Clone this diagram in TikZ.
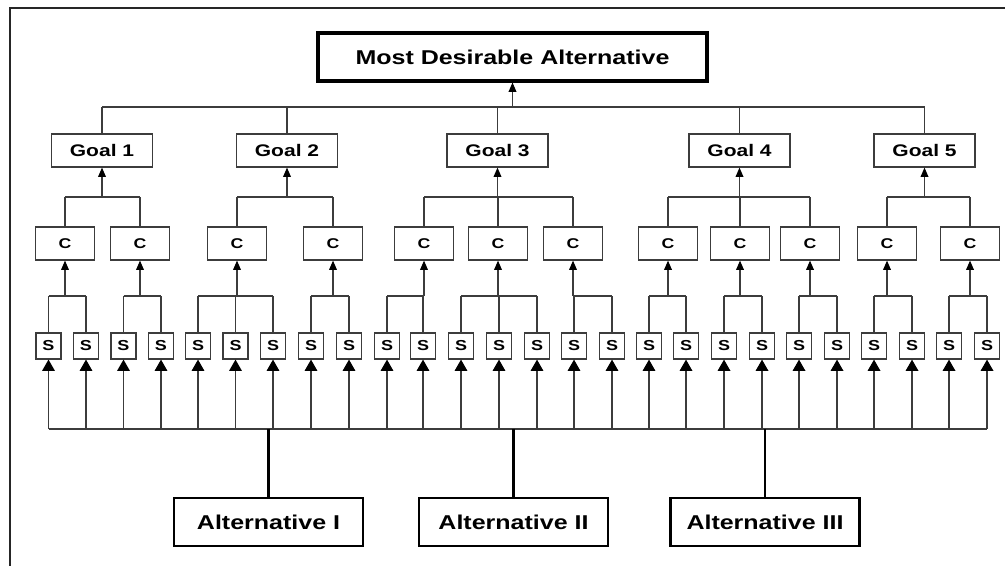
\documentclass[tikz,border=0pt]{standalone}
\usepackage{fontspec}
\usetikzlibrary{arrows.meta}
\newfontfamily\boxfont[FakeStretch=1.25]{Liberation Sans}
\definecolor{wirecol}{RGB}{60,60,60}
\begin{document}
\begin{tikzpicture}[x=0.75pt,y=-0.75pt,
  wire/.style={draw=wirecol,line width=0.9pt},
  thickwire/.style={draw=black,line width=1.6pt},
  smallarrow/.style={wire,-{Triangle[width=5.8pt,length=7pt,color=black]}},
  bigarrow/.style={wire,-{Triangle[width=9.5pt,length=8.5pt,color=black]}},
  basebox/.style={draw=wirecol,line width=0.9pt,inner sep=0pt,font=\boxfont\bfseries},
  topbox/.style={draw=black,line width=2.3pt,inner sep=0pt,minimum width=389*0.75pt,minimum height=48*0.75pt,font=\boxfont\bfseries\fontsize{15pt}{18pt}\selectfont},
  altbox/.style={draw=black,line width=1.9pt,inner sep=0pt,minimum width=189*0.75pt,minimum height=48*0.75pt,font=\boxfont\bfseries\fontsize{15pt}{18pt}\selectfont},
  goalbox/.style={basebox,minimum width=101*0.75pt,minimum height=33*0.75pt,font=\boxfont\bfseries\fontsize{12.6pt}{15pt}\selectfont},
  cbox/.style={basebox,minimum width=59*0.75pt,minimum height=33*0.75pt,font=\boxfont\bfseries\fontsize{10.6pt}{13pt}\selectfont},
  sbox/.style={basebox,minimum width=25*0.75pt,minimum height=26*0.75pt,font=\boxfont\bfseries\fontsize{10.8pt}{13pt}\selectfont}]
\useasboundingbox (0,0) rectangle (1005,566);

% outer frame (top and left edges)
\coordinate (frameTL) at (10,8);
\coordinate (frameTR) at (1005,8);
\coordinate (frameBL) at (10,566);
\draw[wire,draw=black!85] (frameTR) -- (frameTL) -- (frameBL);

% bus levels
\coordinate (busG) at (0,107);
\coordinate (busC) at (0,197);
\coordinate (busS) at (0,296);
\coordinate (busA) at (0,429);

% top node
\node[topbox] (mda) at (512.5,57) {Most Desirable Alternative};

% goals
\foreach \i/\x in {1/102,2/287,3/497.5,4/739.5,5/924.5}
  \node[goalbox] (g\i) at (\x,150.5) {Goal \i};

% criteria
\foreach \i/\x in {1/65,2/140,3/237,4/333,5/424,6/498,7/573,8/668,9/740,10/810,11/887,12/970}
  \node[cbox] (c\i) at (\x,243.5) {C};

% sub-criteria
\foreach \i/\x in {1/48.5,2/86,3/123.5,4/161,5/198,6/235.5,7/273,8/311,9/349,10/387,11/423,12/461,13/499,14/537,15/574,16/612,17/649,18/686,19/724,20/762,21/799,22/837,23/874,24/912,25/949,26/987}
  \node[sbox] (s\i) at (\x,346) {S};

% alternatives
\node[altbox] (a1) at (268.5,522) {Alternative I};
\node[altbox] (a2) at (513.5,522) {Alternative II};
\node[altbox] (a3) at (765,522) {Alternative III};

% goals -> top node
\draw[wire] (g1.north |- busG) -- (g5.north |- busG);
\foreach \i in {1,...,5}
  \draw[wire] (g\i.north) -- (g\i.north |- busG);
\draw[smallarrow] (mda.south |- busG) -- (mda.south);

% criteria -> goals
\foreach \g/\first/\last in {1/1/2,2/3/4,3/5/7,4/8/10,5/11/12}{
  \draw[wire] (c\first.north |- busC) -- (c\last.north |- busC);
  \draw[smallarrow] (g\g.south |- busC) -- (g\g.south);
}
\foreach \i in {1,...,12}
  \draw[wire] (c\i.north) -- (c\i.north |- busC);

% sub-criteria -> criteria
\foreach \c/\first/\last in {1/1/2,2/3/4,3/5/7,4/8/9,5/10/11,6/12/14,7/15/16,8/17/18,9/19/20,10/21/22,11/23/24,12/25/26}{
  \draw[wire] (s\first.north |- busS) -- (s\last.north |- busS);
  \draw[smallarrow] (c\c.south |- busS) -- (c\c.south);
}
\foreach \i in {1,...,26}
  \draw[wire] (s\i.north) -- (s\i.north |- busS);

% alternatives -> sub-criteria
\draw[wire] (s1.south |- busA) -- (s26.south |- busA);
\foreach \i in {1,...,26}
  \draw[bigarrow] (s\i.south |- busA) -- (s\i.south);
\foreach \i in {1,2,3}
  \draw[thickwire] (a\i.north) -- (a\i.north |- busA);
\end{tikzpicture}
\end{document}
